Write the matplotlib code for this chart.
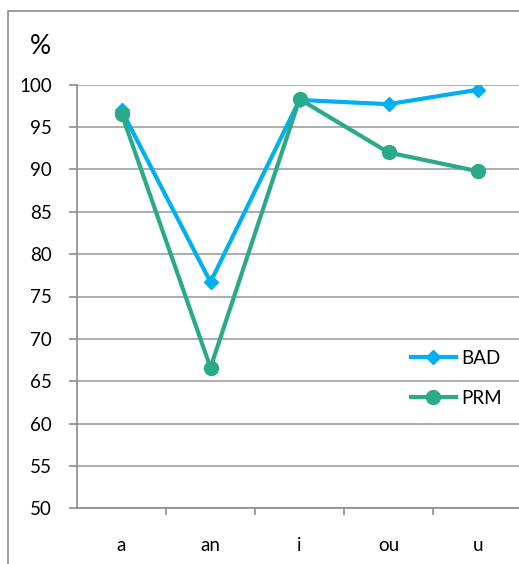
# line chart: BAD vs PRM scores per vowel

from matplotlib import pyplot as plt
from matplotlib.patches import Rectangle

categories = ['a', 'an', 'i', 'ou', 'u']
bad = [97.0, 76.7, 98.2, 97.7, 99.4]
prm = [96.6, 66.6, 98.3, 92.0, 89.8]
yticks = [50, 55, 60, 65, 70, 75, 80, 85, 90, 95, 100]

if __name__ == "__main__":

     plt.rcParams['font.family'] = ['Lato', 'DejaVu Sans']

     W, H = 519, 564
     fig = plt.figure(figsize=(W/100, H/100), dpi=100)

     # plot area runs past the right edge (the reference is cropped)
     x0, x1 = 77, 522
     y0, y1 = 84.7, 508.3
     ax1 = fig.add_axes([x0/W, 1-y1/H, (x1-x0)/W, (y1-y0)/H])

     # outer chart frame, also cropped at right and bottom
     fig.patches.append(Rectangle((8/W, -0.1), 1.2, 1.1-11.5/H, transform=fig.transFigure,
                                  fill=False, edgecolor='#8c8c8c', linewidth=1.2))

     xs = list(range(len(categories)))
     ax1.plot(xs, bad, '-', color='#00b0f0', lw=3, marker='D', ms=7, label='BAD', zorder=3)
     ax1.plot(xs, prm, '-', color='#2aaa88', lw=3, marker='o', ms=10, label='PRM', zorder=4)

     ax1.set_xlim(-0.5, len(categories)-0.5)
     ax1.set_ylim(50, 100)
     ax1.set_yticks(yticks)
     ax1.set_yticklabels([str(v) for v in yticks], fontsize=13.5)
     ax1.set_xticks(xs)
     ax1.set_xticklabels(categories, fontsize=13.5)
     ax1.set_xticks([i+0.5 for i in range(len(categories)-1)], minor=True)
     ax1.tick_params(axis='x', which='major', length=0, pad=21)
     ax1.tick_params(axis='x', which='minor', length=5, color='#8c8c8c', width=1.2, direction='out')
     ax1.tick_params(axis='y', length=6, color='#8c8c8c', width=1.2, pad=12)

     ax1.grid(axis='y', color='#a0a0a0', lw=1.2)
     ax1.set_axisbelow(True)
     for s in ['top', 'right']:
          ax1.spines[s].set_visible(False)
     for s in ['left', 'bottom']:
          ax1.spines[s].set_color('#8c8c8c')
          ax1.spines[s].set_linewidth(1.2)

     fig.text(30/W, 1-47/H, '%', fontsize=19, va='center', ha='left')

     ax1.legend(loc='upper left', bbox_to_anchor=((403-x0)/(x1-x0), 1-(342-y0)/(y1-y0)),
                frameon=False, fontsize=13.5, handlelength=2.4, labelspacing=1.25,
                handletextpad=0.3, borderaxespad=0)

     fig.savefig('out.png', dpi=100)
